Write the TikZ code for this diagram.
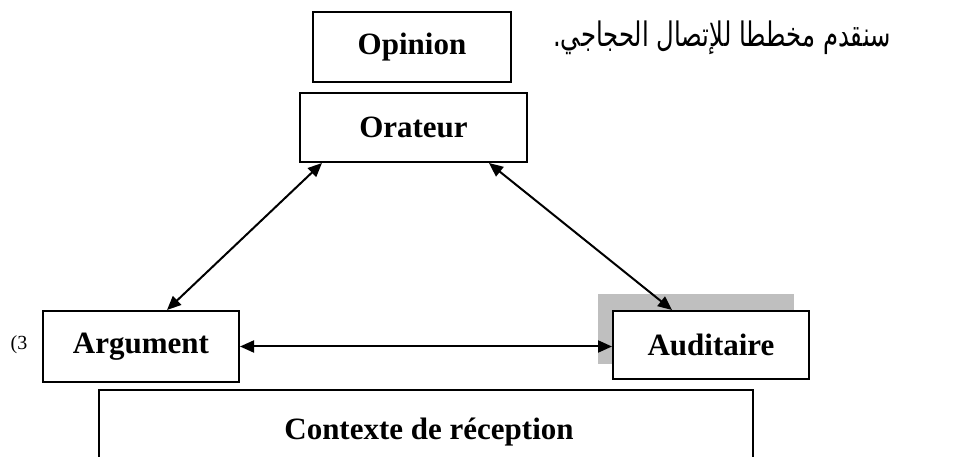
\documentclass[tikz,border=0pt]{standalone}
\usepackage{fontspec}
\setmainfont{Liberation Serif}
\newfontfamily\arabicfont[Script=Arabic]{DejaVu Sans}
\TeXXeTstate=1
\usetikzlibrary{arrows.meta}

\tikzset{
  box/.style={draw, line width=2pt, fill=white, inner sep=0pt,
    font=\bfseries\fontsize{31}{36}\selectfont},
  link/.style={line width=2pt, {Triangle[length=14pt,width=12pt]}-{Triangle[length=14pt,width=12pt]}}
}

\begin{document}
\begin{tikzpicture}[x=1pt,y=1pt]
    \useasboundingbox (0,0) rectangle (965,457);

    % draw heading text
    \node (intro) at (722,419) {\scalebox{0.9}[1.25]{\arabicfont\fontsize{27}{32}\selectfont\beginR سنقدم مخططا للإتصال الحجاجي.\endR}};

    % draw shadow behind auditaire
    \fill[gray!50] (598,93) rectangle (794,163);

    % draw boxes
    \node[box, minimum width=198pt, minimum height=70pt] (opinion) at (412,410) {Opinion};
    \node[box, minimum width=227pt, minimum height=69pt] (orateur) at (413.5,329.5) {Orateur};
    \node[box, minimum width=196pt, minimum height=71pt] (argument) at (141,110.5) {Argument};
    \node[box, minimum width=196pt, minimum height=68pt] (auditaire) at (711,112) {Auditaire};
    \node (num) at (19,112) {\fontsize{20}{24}\selectfont (3};

    % draw open box at the bottom
    \coordinate (ctxa) at (99,0);
    \coordinate (ctxb) at (753,0);
    \draw[line width=2pt] (ctxa) -- (99,67) -- (753,67) -- (ctxb);
    \node[font=\bfseries\fontsize{31}{36}\selectfont] (contexte) at (429,25) {Contexte de r\'eception};

    % draw arrows
    \draw[link] ([xshift=23pt]orateur.south west) -- ([xshift=26pt]argument.north);
    \draw[link] ([xshift=-39pt]orateur.south east) -- ([xshift=-39pt]auditaire.north);
    \draw[link] (argument.east) -- (argument.east -| auditaire.west);

\end{tikzpicture}
\end{document}
